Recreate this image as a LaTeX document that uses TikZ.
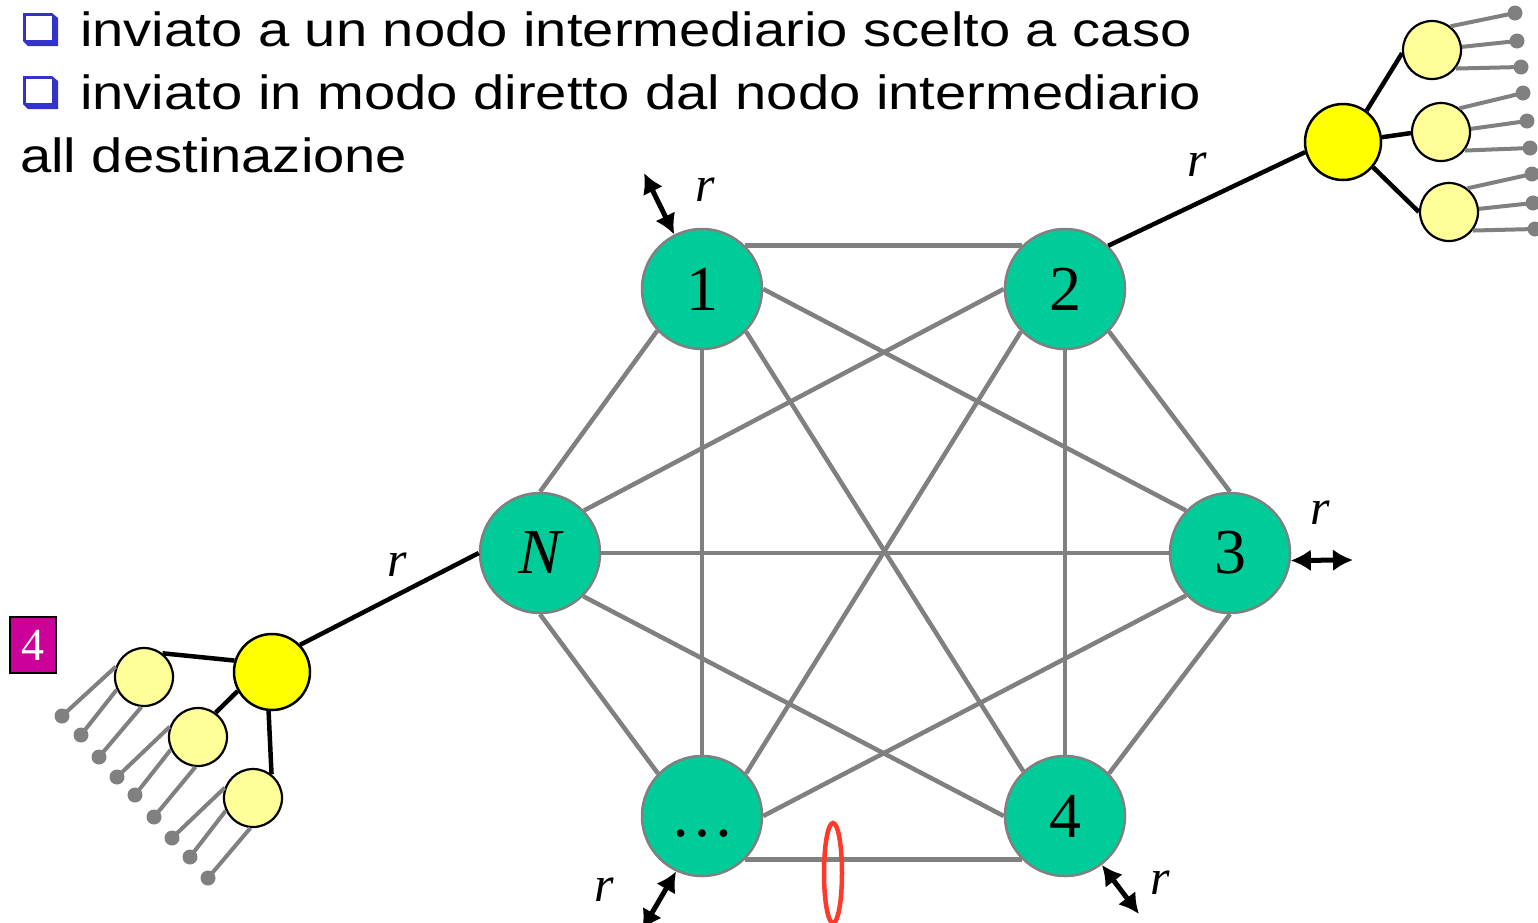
\documentclass[tikz,border=0pt]{standalone}
\usepackage{fontspec}
\setmainfont{Liberation Serif}
\newfontfamily\hdrfont[FakeStretch=1.17]{Liberation Sans}
\usetikzlibrary{arrows.meta}
\definecolor{nodegreen}{HTML}{00CC99}
\definecolor{edgegray}{HTML}{808080}
\definecolor{yel}{HTML}{FFFF00}
\definecolor{lyel}{HTML}{FFFF99}
\definecolor{bulletblue}{HTML}{3333CC}
\definecolor{magbox}{HTML}{CC0099}
\definecolor{redring}{HTML}{FF3A2A}
\begin{document}
\begin{tikzpicture}[x=1pt,y=-1pt,
 hub/.style={circle, fill=nodegreen, draw=edgegray, line width=2.5pt, minimum size=120pt, inner sep=0pt, font=\fontsize{64}{64}\selectfont},
 mesh/.style={draw=edgegray, line width=4.5pt},
 big/.style={circle, fill=yel, draw=black, line width=2.5pt, minimum size=76pt, inner sep=0pt},
 small/.style={circle, fill=lyel, draw=black, line width=2.2pt, minimum size=58pt, inner sep=0pt},
 dot/.style={circle, fill=edgegray, inner sep=0pt, minimum size=15pt},
 leaf/.style={draw=edgegray, line width=4pt},
 tie/.style={draw=black, line width=4.5pt},
 dbl/.style={line width=5pt, {Latex[length=20pt,width=22pt]}-{Latex[length=20pt,width=22pt]}},
 rlab/.style={font=\fontsize{50}{50}\selectfont\itshape, inner sep=0pt},
 hdr/.style={anchor=base west, inner sep=0pt, font=\hdrfont\fontsize{48}{48}\selectfont}
]
\useasboundingbox (0,0) rectangle (1538,922);
\fill[white] (0,0) rectangle (1538,922);

% header bullets
\foreach \yy in {0,63}{
  \fill[bulletblue] (23,13+\yy) -- (52,13+\yy) -- (58,18+\yy) -- (58,46+\yy) -- (28,46+\yy) -- (23,41+\yy) -- cycle;
  \fill[white] (25.5,15.5+\yy) rectangle (52,40+\yy);
}
\node[hdr] (t1) at (80,46) {inviato a un nodo intermediario scelto a caso};
\node[hdr] (t2) at (80,109) {inviato in modo diretto dal nodo intermediario};
\node[hdr] (t3) at (20,172) {all destinazione};

% hub nodes
\node[hub] (n1) at (702,289) {1};
\node[hub] (n2) at (1065,289) {2};
\node[hub] (n3) at (1230,553) {3};
\node[hub] (n4) at (1065,816) {4};
\node[hub] (nd) at (702,816) {\vphantom{1}\ldots};
\node[hub] (nN) at (540,553) {\itshape N};

% mesh
\draw[mesh] (n1.45) -- (n2.135);
\draw[mesh] (n1.0) -- (n3.136);
\draw[mesh] (n1.-44) -- (n4.133);
\draw[mesh] (n1.south) -- (nd.north);
\draw[mesh] (n1.-137) -- (nN.north);
\draw[mesh] (n2.-44) -- (n3.north);
\draw[mesh] (n2.south) -- (n4.north);
\draw[mesh] (n2.-136) -- (nd.44);
\draw[mesh] (n2.180) -- (nN.44);
\draw[mesh] (n3.south) -- (n4.44);
\draw[mesh] (n3.-136) -- (nd.0);
\draw[mesh] (n3.west) -- (nN.east);
\draw[mesh] (n4.-135) -- (nd.-45);
\draw[mesh] (nN.-45) -- (n4.180);
\draw[mesh] (nd.136) -- (nN.south);

% top-right tree
\node[big] (B1) at (1343,142) {};
\node[small] (s1) at (1432,50) {};
\node[small] (s2) at (1441,132) {};
\node[small] (s3) at (1449,212) {};
\draw[tie] (n2.45) -- (B1.195);
\draw[tie] (B1.53) -- (s1.186);
\draw[tie] (B1.7) -- (s2.182);
\draw[tie] (B1.-40) -- (s3.180);
\node[dot] (d11) at (1515,13) {};
\node[dot] (d12) at (1517,41) {};
\node[dot] (d13) at (1521,67) {};
\node[dot] (d21) at (1523,93) {};
\node[dot] (d22) at (1527,121) {};
\node[dot] (d23) at (1530,148) {};
\node[dot] (d31) at (1532,174) {};
\node[dot] (d32) at (1533,203) {};
\node[dot] (d33) at (1535,229) {};
\foreach \s in {1,2,3}{
  \draw[leaf] (s\s.52) -- (d\s1.center);
  \draw[leaf] (s\s.6) -- (d\s2.center);
  \draw[leaf] (s\s.-38) -- (d\s3.center);
}

% bottom-left tree
\node[big] (B2) at (272,672) {};
\node[small] (u1) at (144,677) {};
\node[small] (u2) at (198,737) {};
\node[small] (u3) at (253,798) {};
\draw[tie] (nN.180) -- (B2.44);
\draw[tie] (B2.163) -- (u1.52);
\draw[tie] (B2.209) -- (u2.54);
\draw[tie] (B2.265) -- (u3.52);
\node[dot] (e11) at (62,716) {};
\node[dot] (e12) at (81,735) {};
\node[dot] (e13) at (99,757) {};
\node[dot] (e21) at (117,777) {};
\node[dot] (e22) at (135,795) {};
\node[dot] (e23) at (154,817) {};
\node[dot] (e31) at (172,838) {};
\node[dot] (e32) at (190,857) {};
\node[dot] (e33) at (208,878) {};
\foreach \s in {1,2,3}{
  \draw[leaf] (u\s.160) -- (e\s1.center);
  \draw[leaf] (u\s.205) -- (e\s2.center);
  \draw[leaf] (u\s.265) -- (e\s3.center);
}

% magenta box
\node[fill=magbox, draw=black, line width=2.5pt, minimum width=46pt, minimum height=56pt, inner sep=0pt, text=white, font=\fontsize{46}{46}\selectfont] (mb) at (33,645) {4};

% double arrows and r labels
\coordinate (a1) at (644,173);
\coordinate (a3) at (1353,560);
\coordinate (a4) at (1139,914);
\coordinate (ad) at (642,930);
\draw[dbl] (a1) -- (n1.117);
\draw[dbl] (n3.-7) -- (a3);
\draw[dbl] (n4.-53) -- (a4);
\draw[dbl] (nd.-115) -- (ad);
\node[rlab] (r1) at (705,190) {r};
\node[rlab] (r2) at (1197,165) {r};
\node[rlab] (r3) at (1320,513) {r};
\node[rlab] (rN) at (397,565) {r};
\node[rlab] (r4) at (1160,883) {r};
\node[rlab] (rd) at (604,890) {r};

% red ring
\draw[redring, line width=4.5pt] (833,873) ellipse [x radius=9, y radius=50];
\end{tikzpicture}
\end{document}
